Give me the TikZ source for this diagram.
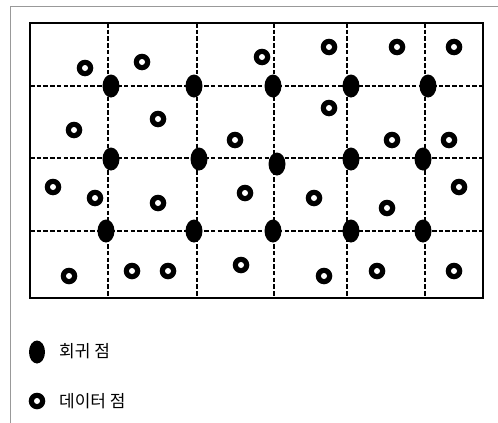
\documentclass[tikz,border=0pt]{standalone}
\usepackage{fontspec}
\newfontfamily\krfont{Noto Sans CJK KR}
\usetikzlibrary{shapes.geometric, positioning}

\begin{document}
\begin{tikzpicture}[x=1pt, y=-1pt,
  regpt/.style={ellipse, fill=black, inner sep=0pt, minimum width=17pt, minimum height=23pt},
  datapt/.style={circle, fill=black, inner sep=0pt, minimum size=16.6pt,
    path picture={\fill[white] (path picture bounding box.center) circle (3pt);}},
  gridline/.style={line width=2.2pt, dash pattern=on 4.5pt off 2.2pt},
  legendtext/.style={anchor=west, inner sep=0pt, font=\krfont\fontsize{17}{20}\selectfont}]
\useasboundingbox (0,0) rectangle (498,423);
% page frame
\draw[gray!80, line width=1pt] (10,423) -- (10,6) -- (498,6);
% plot area
\coordinate (tl) at (30,23);
\coordinate (br) at (483,298);
\foreach \x in {108,197,274,347,425}
  \draw[gridline] (\x,23) -- (\x,298);
\foreach \y in {86,158,231}
  \draw[gridline] (30,\y) -- (483,\y);
\draw[line width=2pt] (tl) rectangle (br);
% regression points
\foreach \x/\y [count=\i] in {111/86, 194/86, 273/86, 351/86, 428/86,
    111/159, 199/159, 277/164, 351/159, 423/159,
    106/231, 194/231, 273/231, 351/231, 423/231}
  \node[regpt] (reg\i) at (\x,\y) {};
% data points
\foreach \x/\y [count=\i] in {85/68, 142/62, 262/57, 329/47, 397/47, 454/47,
    74/130, 158/119, 235/140, 329/108, 392/140, 449/140,
    53/187, 95/198, 158/203, 245/193, 314/198, 387/208, 459/187,
    69/276, 132/271, 168/271, 241/265, 324/276, 377/271, 454/271}
  \node[datapt] (dat\i) at (\x,\y) {};
% legend
\node[regpt, minimum width=16pt] (legreg) at (37,352) {};
\node[legendtext] (legregtext) at (59,351) {회귀 점};
\node[datapt] (legdat) at (37,401) {};
\node[legendtext] (legdattext) at (59,401) {데이터 점};
\end{tikzpicture}
\end{document}
